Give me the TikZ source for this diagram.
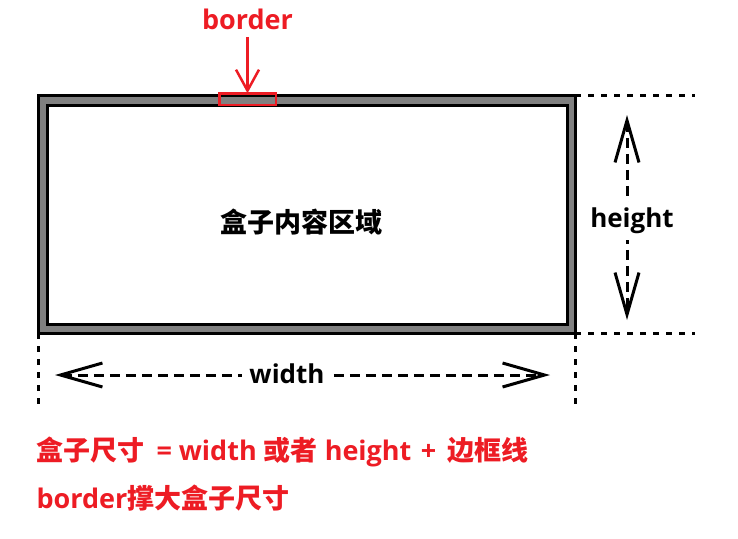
\documentclass[tikz,border=0pt]{standalone}
\usepackage{fontspec}
\setmainfont{Open Sans}
\newfontfamily\cjk{Noto Sans CJK SC}
\usetikzlibrary{arrows.meta, positioning}
\definecolor{boxgray}{HTML}{808080}
\definecolor{hilite}{HTML}{ED1C24}

\begin{document}
\begin{tikzpicture}[x=1pt, y=-1pt, font=\bfseries\fontsize{27}{30}\selectfont,
    frame/.style={draw=black, line width=3pt, inner sep=0pt, outer sep=0pt},
    guide/.style={line width=3pt, dash pattern=on 6pt off 7pt},
    measure/.style={line width=3pt, dash pattern=on 10pt off 6pt,
      {Straight Barb[length=42pt, width=24pt]}-{Straight Barb[length=42pt, width=24pt]}},
    tag/.style={fill=white, inner xsep=7pt, inner ysep=2pt, font=\bfseries\fontsize{26}{30}\selectfont}]
  \useasboundingbox (0,0) rectangle (738,538);
  % box: border ring and content area
  \node[frame, fill=boxgray, minimum width=536.5pt, minimum height=237.5pt,
        anchor=north west] (outer) at (38.5,95.5) {};
  \node[frame, fill=white, minimum width=520.5pt, minimum height=218.5pt,
        anchor=north west] (inner) at (47,105.5) {};
  \node[font=\cjk\bfseries\fontsize{27}{30}\selectfont] (content) at (301,222) {盒子内容区域};
  % extension lines
  \coordinate (topend) at (695,95.5);
  \coordinate (botend) at (695,333);
  \coordinate (leftend) at (38.5,410);
  \coordinate (rightend) at (575,410);
  \draw[guide] (outer.north east) -- (topend);
  \draw[guide] (outer.south east) -- (botend);
  \draw[guide] (outer.south west) -- (leftend);
  \draw[guide] (outer.south east) -- (rightend);
  % height
  \coordinate (htop) at (627,115);
  \coordinate (hbot) at (627,320);
  \draw[measure] (htop) -- (hbot);
  \node[tag, inner xsep=2pt, inner ysep=6pt] (hlabel) at (632,221) {height};
  % width
  \coordinate (wleft) at (55,375);
  \coordinate (wright) at (550,375);
  \draw[measure] (wleft) -- (wright);
  \node[tag] (wlabel) at (287,374) {width};
  % border marker
  \node[draw=hilite, line width=2.5pt, inner sep=0pt, outer sep=0pt,
        minimum width=56.5pt, minimum height=11.5pt] (bmark) at (247.5,99) {};
  \node[text=hilite] (blabel) at (247.5,19) {border};
  \draw[hilite, line width=2.5pt, shorten <=4pt, -{Straight Barb[length=21pt, width=23pt]}]
    (blabel) -- (bmark.north);
  % notes
  \node[anchor=west, text=hilite] (note1) at (33,452)
    {{\cjk 盒子尺寸}\hspace{0.45em}=\hspace{0.25em}width {\cjk 或者} height\hspace{0.35em}+\hspace{0.4em}{\cjk 边框线}};
  \node[anchor=west, text=hilite] (note2) at (33,498)
    {border{\cjk 撑大盒子尺寸}};
\end{tikzpicture}
\end{document}
